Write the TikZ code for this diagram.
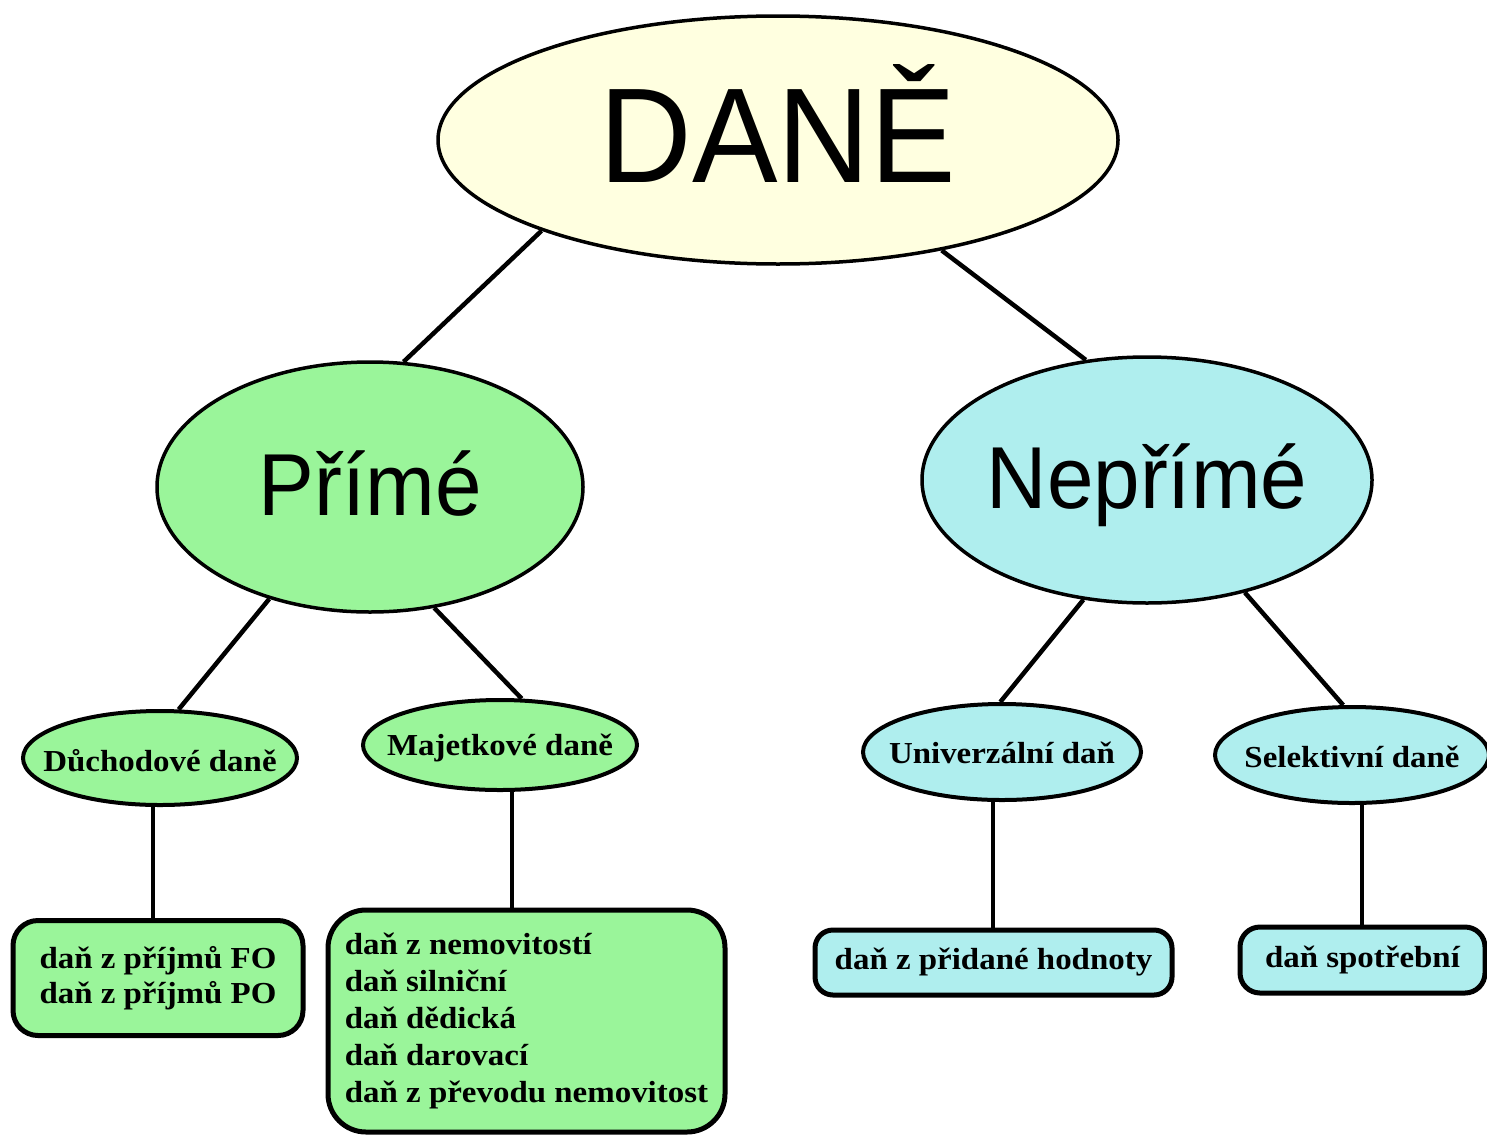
\documentclass[tikz,border=0pt]{standalone}
\usepackage{fontspec}
\setmainfont{Liberation Serif}
\newfontfamily\bigsans[FakeStretch=0.95]{Liberation Sans}
\newfontfamily\smallser[FakeStretch=1.08]{Liberation Serif}
\usetikzlibrary{shapes.geometric,backgrounds,calc}
\definecolor{ylw}{HTML}{FFFFE0}
\definecolor{grn}{HTML}{9AF59A}
\definecolor{cyn}{HTML}{AFEEEE}
\newcommand{\zw}[1]{\makebox[0pt]{#1}}
\tikzset{
  bigell/.style={ellipse, draw=black, line width=3.5pt, inner sep=0pt, text depth=0pt},
  smallell/.style={ellipse, draw=black, line width=4pt, inner sep=0pt, text depth=0pt,
    font=\smallser\bfseries\fontsize{30.5}{36}\selectfont},
  leafbox/.style={rectangle, draw=black, line width=5pt, inner sep=0pt,
    font=\smallser\bfseries\fontsize{30.5}{36}\selectfont},
  conn/.style={line width=4.5pt, draw=black},
}
\begin{document}
\begin{tikzpicture}[x=1pt,y=-1pt]
\useasboundingbox (0,0) rectangle (1487,1135);
% top level
\node[bigell, fill=ylw, minimum width=680pt, minimum height=248pt, text height=84pt,
  font=\bigsans\fontsize{135}{140}\selectfont] (dane) at (778,140) {\zw{DANĚ}};
% second level
\node[bigell, fill=grn, minimum width=426pt, minimum height=250pt, text height=56pt,
  font=\bigsans\fontsize{88}{94}\selectfont] (prime) at (370,487) {\zw{Přímé}};
\node[bigell, fill=cyn, minimum width=450pt, minimum height=246pt, text height=56pt,
  font=\bigsans\fontsize{88}{94}\selectfont] (nep) at (1147,480) {\zw{Nepřímé}};
% third level
\node[smallell, fill=grn, minimum width=274pt, minimum height=94pt, text height=26pt] (duch) at (160,758) {\zw{Důchodové daně}};
\node[smallell, fill=grn, minimum width=274pt, minimum height=90pt, text height=20pt] (maj) at (500,745) {\zw{Majetkové daně}};
\node[smallell, fill=cyn, minimum width=278pt, minimum height=96pt, text height=22pt] (univ) at (1002,752) {\zw{Univerzální daň}};
\node[smallell, fill=cyn, minimum width=274pt, minimum height=96pt, text height=24pt] (sel) at (1352,755) {\zw{Selektivní daně}};
% leaves
\node[leafbox, fill=grn, rounded corners=25pt, minimum width=290pt, minimum height=115pt, align=center,
  font=\smallser\bfseries\fontsize{30.5}{34.5}\selectfont] (box1) at (158,978) {daň z příjmů FO\\daň z příjmů PO};
\node[leafbox, fill=grn, rounded corners=38pt, minimum width=397pt, minimum height=222pt, align=left,
  font=\smallser\bfseries\fontsize{30.5}{37}\selectfont] (box2) at (526.5,1021)
  {daň z nemovitostí\\daň silniční\\daň dědická\\daň darovací\\daň z převodu nemovitost};
\node[leafbox, fill=cyn, rounded corners=18pt, minimum width=357pt, minimum height=65pt] (box3) at (993.5,962.5) {daň z přidané hodnoty};
\node[leafbox, fill=cyn, rounded corners=20pt, minimum width=245pt, minimum height=66pt] (box4) at (1362.5,960) {daň spotřební};
% connectors
\begin{pgfonlayer}{background}
\draw[conn] (dane.201) -- (prime.75);
\draw[conn] (dane.326) -- (nep.117);
\draw[conn] (prime.228) -- (duch.69);
\draw[conn] (prime.298) -- (maj.65);
\draw[conn] (nep.242) -- (univ.92);
\draw[conn] (nep.311) -- (sel.100);
\draw[conn] ($(duch.center)+(-7,0)$) -- ($(duch.center|-box1.center)+(-7,0)$);
\draw[conn] ($(maj.center)+(12,0)$) -- ($(maj.center|-box2.center)+(12,0)$);
\draw[conn] ($(univ.center)+(-9,0)$) -- ($(univ.center|-box3.center)+(-9,0)$);
\draw[conn] ($(sel.center)+(10,0)$) -- ($(sel.center|-box4.center)+(10,0)$);
\end{pgfonlayer}
\end{tikzpicture}
\end{document}
